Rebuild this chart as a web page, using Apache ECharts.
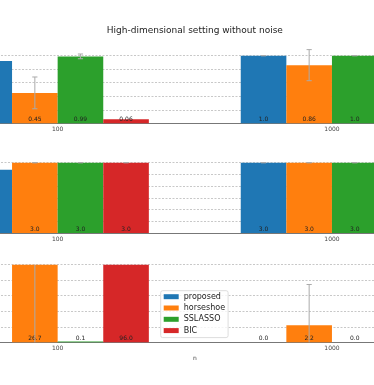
<!DOCTYPE html>
<html>
<head>
<meta charset="utf-8">
<script src="https://cdn.jsdelivr.net/npm/echarts@6/dist/echarts.min.js"></script>
<style>
  html, body { margin: 0; padding: 0; background: #fff; }
  #chart { width: 374px; height: 385px; }
</style>
</head>
<body>
<div id="chart"></div>
<script>
const categories = ['100', '1000'];
const methods = ['proposed', 'horseshoe', 'SSLASSO', 'BIC'];
const colors = ['#1f77b4', '#ff7f0e', '#2ca02c', '#d62728'];

// one row per method, one column per n
const p1Mean = [[0.92, 1.0], [0.45, 0.86], [0.99, 1.0], [0.06, 1.0]];
const p1Std = [[null, 0], [0.235, 0.23], [0.035, 0], [null, 0]];
const p2Mean = [[2.7, 3.0], [3.0, 3.0], [3.0, 3.0], [3.0, 3.0]];
const p2Std = [[null, 0], [0, 0], [0, 0], [0, 0]];
const p3Mean = [[0.0, 0.0], [26.7, 2.2], [0.1, 0.0], [96.0, 0.0]];
const p3Std = [[null, null], [35, 5.25], [null, null], [0, null]];

const BAR_W = 45.6;
const CAP = 2.6;
const FONT = 'DejaVu Sans';

// the figure is cropped: the axes run past both sides of the canvas
const grids = [
  { left: -79.5, width: 548.6, top: 55.7, height: 67.6, outerBoundsMode: 'none' },
  { left: -79.5, width: 548.6, top: 162.7, height: 70.3, outerBoundsMode: 'none' },
  { left: -79.5, width: 548.6, top: 264.7, height: 77.6, outerBoundsMode: 'none' }
];
const yMax = [1, 3, 10];
const yStep = [0.2, 0.5, 2];

function fmt(v) {
  return Number.isInteger(v) ? v.toFixed(1) : String(v);
}

function barSeries(g, means) {
  return means.map((vals, m) => ({
    type: 'bar',
    name: methods[m],
    xAxisIndex: g,
    yAxisIndex: g,
    data: vals,
    barWidth: BAR_W,
    barGap: '0%',
    itemStyle: { color: colors[m] },
    label: {
      show: true,
      position: 'insideBottom',
      distance: 1,
      fontSize: 6,
      fontFamily: FONT,
      color: '#222',
      formatter: p => fmt(p.value)
    },
    silent: true
  }));
}

function errSeries(g, means, stds, clip) {
  const data = [];
  means.forEach((vals, m) => vals.forEach((v, c) => {
    const s = stds[m][c];
    if (s !== null) data.push([c, m, v - s, v + s]);
  }));
  const st = { stroke: '#aaa', lineWidth: 1 };
  return {
    type: 'custom',
    xAxisIndex: g,
    yAxisIndex: g,
    clip: clip,
    z: 5,
    silent: true,
    data: data,
    encode: { x: 0, y: [2, 3] },
    renderItem(params, api) {
      const c = api.value(0), m = api.value(1);
      const lo = api.coord([c, api.value(2)]);
      const hi = api.coord([c, api.value(3)]);
      const x = lo[0] + (m - 1.5) * BAR_W;
      return {
        type: 'group',
        children: [
          { type: 'line', shape: { x1: x, y1: lo[1], x2: x, y2: hi[1] }, style: st },
          { type: 'line', shape: { x1: x - CAP, y1: hi[1], x2: x + CAP, y2: hi[1] }, style: st },
          { type: 'line', shape: { x1: x - CAP, y1: lo[1], x2: x + CAP, y2: lo[1] }, style: st }
        ]
      };
    }
  };
}

const xAxes = grids.map((gr, i) => ({
  type: 'category',
  gridIndex: i,
  data: categories,
  axisLine: { lineStyle: { color: '#777', width: 1 } },
  axisTick: { alignWithLabel: true, length: 3, lineStyle: { color: '#777' } },
  axisLabel: { fontSize: 6, fontFamily: FONT, color: '#444', margin: 3 },
  name: i === 2 ? 'n' : '',
  nameLocation: 'middle',
  nameGap: 13,
  nameTextStyle: { fontSize: 6, fontFamily: FONT, color: '#444' }
}));

const yAxes = grids.map((gr, i) => ({
  type: 'value',
  gridIndex: i,
  min: 0,
  max: yMax[i],
  interval: yStep[i],
  axisLine: { show: false },
  axisTick: { show: false },
  axisLabel: { show: false },
  splitLine: { lineStyle: { color: '#c8c8c8', type: [2, 1.5], width: 1 } }
}));

const chart = echarts.init(document.getElementById('chart'));
chart.setOption({
  animation: false,
  backgroundColor: '#fff',
  graphic: [{
    type: 'text',
    x: 194.8,
    y: 30.7,
    style: {
      text: 'High-dimensional setting without noise',
      fontSize: 9,
      fontFamily: FONT,
      fill: '#222',
      textAlign: 'center',
      textVerticalAlign: 'middle'
    }
  }],
  legend: {
    data: methods,
    orient: 'vertical',
    left: 160.7,
    top: 290.7,
    icon: 'rect',
    itemWidth: 15,
    itemHeight: 5,
    itemGap: 3.3,
    padding: [2, 3, 3, 3],
    borderColor: '#ddd',
    borderWidth: 1,
    borderRadius: 2,
    backgroundColor: 'rgba(255,255,255,0.8)',
    textStyle: { fontSize: 8, fontFamily: FONT, color: '#222' },
    selectedMode: false
  },
  grid: grids,
  xAxis: xAxes,
  yAxis: yAxes,
  series: [
    ...barSeries(0, p1Mean), errSeries(0, p1Mean, p1Std, false),
    ...barSeries(1, p2Mean), errSeries(1, p2Mean, p2Std, false),
    ...barSeries(2, p3Mean), errSeries(2, p3Mean, p3Std, true)
  ]
});
</script>
</body>
</html>
